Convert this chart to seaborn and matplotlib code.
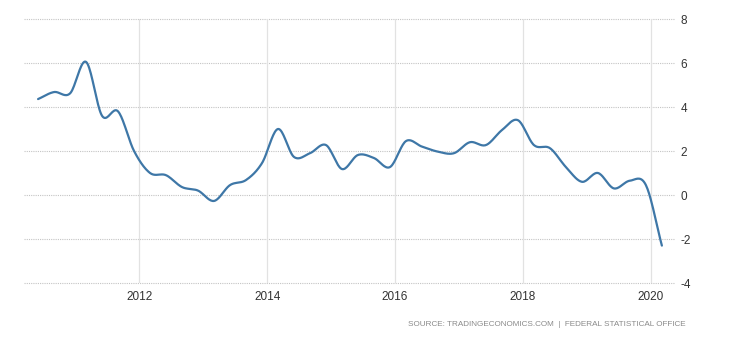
import numpy as np
import pandas as pd
import matplotlib
matplotlib.use("Agg")
import matplotlib.pyplot as plt
import seaborn as sns

# Quarterly GDP annual growth rate (%), Q2 2010 .. Q1 2020
quarters = ["2010Q2", "2010Q3", "2010Q4",
            "2011Q1", "2011Q2", "2011Q3", "2011Q4",
            "2012Q1", "2012Q2", "2012Q3", "2012Q4",
            "2013Q1", "2013Q2", "2013Q3", "2013Q4",
            "2014Q1", "2014Q2", "2014Q3", "2014Q4",
            "2015Q1", "2015Q2", "2015Q3", "2015Q4",
            "2016Q1", "2016Q2", "2016Q3", "2016Q4",
            "2017Q1", "2017Q2", "2017Q3", "2017Q4",
            "2018Q1", "2018Q2", "2018Q3", "2018Q4",
            "2019Q1", "2019Q2", "2019Q3", "2019Q4",
            "2020Q1"]
growth = [4.36, 4.68, 4.62,
          6.05, 3.6, 3.8, 2.0,
          1.0, 0.9, 0.36, 0.2,
          -0.27, 0.45, 0.68, 1.45,
          3.0, 1.73, 1.9, 2.27,
          1.18, 1.82, 1.68, 1.27,
          2.45, 2.2, 1.97, 1.9,
          2.4, 2.27, 2.95, 3.4,
          2.27, 2.13, 1.27, 0.6,
          1.0, 0.3, 0.65, 0.45,
          -2.3]
year_ticks = [2012, 2014, 2016, 2018, 2020]
y_ticks = [-4, -2, 0, 2, 4, 6, 8]
source_text = "SOURCE: TRADINGECONOMICS.COM  |  FEDERAL STATISTICAL OFFICE"


def quarter_to_time(q):
    y = int(q[:4]); n = int(q[-1])
    return y + (n - 1) / 4 + 0.17


def smooth(x, y, n=20):
    # Catmull-Rom spline through the data points (rendering only)
    x = np.asarray(x, float); y = np.asarray(y, float)
    px = np.concatenate([[2 * x[0] - x[1]], x, [2 * x[-1] - x[-2]]])
    py = np.concatenate([[2 * y[0] - y[1]], y, [2 * y[-1] - y[-2]]])
    xs, ys = [], []
    for i in range(1, len(px) - 2):
        t = np.linspace(0, 1, n, endpoint=False)
        for arr, out in ((px, xs), (py, ys)):
            p0, p1, p2, p3 = arr[i - 1], arr[i], arr[i + 1], arr[i + 2]
            out.extend(0.5 * ((2 * p1) + (-p0 + p2) * t
                              + (2 * p0 - 5 * p1 + 4 * p2 - p3) * t ** 2
                              + (-p0 + 3 * p1 - 3 * p2 + p3) * t ** 3))
    xs.append(x[-1]); ys.append(y[-1])
    return np.array(xs), np.array(ys)


sns.set_theme(style="white")
plt.rcParams['font.family'] = ['Liberation Sans', 'DejaVu Sans']

t = [quarter_to_time(q) for q in quarters]
sx, sy = smooth(t, growth)
df = pd.DataFrame({"time": sx, "value": sy})

fig = plt.figure(figsize=(7.3, 3.4), dpi=100)
ax = fig.add_axes([24 / 730, 1 - 283 / 340, (675 - 24) / 730, (283 - 19) / 340])

sns.lineplot(data=df, x="time", y="value", ax=ax, color="#3e77a7",
             linewidth=1.6, sort=False, estimator=None)

ax.set_xlim(2010.2, 2020.375)
ax.set_ylim(-4, 8)

for yv in y_ticks:
    ax.axhline(yv, color="#c4c4c4", linewidth=0.8, linestyle=(0, (1, 1)), zorder=0,
               clip_on=False)
for xv in year_ticks:
    ax.axvline(xv, color="#e2e2e2", linewidth=0.9, zorder=0)

ax.set_xticks(year_ticks)
ax.set_xticklabels([str(v) for v in year_ticks])
ax.set_yticks(y_ticks)
ax.set_yticklabels([str(v) for v in y_ticks])
ax.yaxis.tick_right()
ax.tick_params(axis="both", length=0, labelsize=8.5, colors="#333333")
ax.tick_params(axis="x", pad=6)
ax.tick_params(axis="y", pad=4)
ax.set_xlabel("")
ax.set_ylabel("")
for s in ax.spines.values():
    s.set_visible(False)

fig.text(686 / 730, 1 - 325 / 340, source_text, ha="right", va="center",
         fontsize=5.9, color="#8a8a8a")

fig.savefig("out.png", dpi=100, facecolor="white")
